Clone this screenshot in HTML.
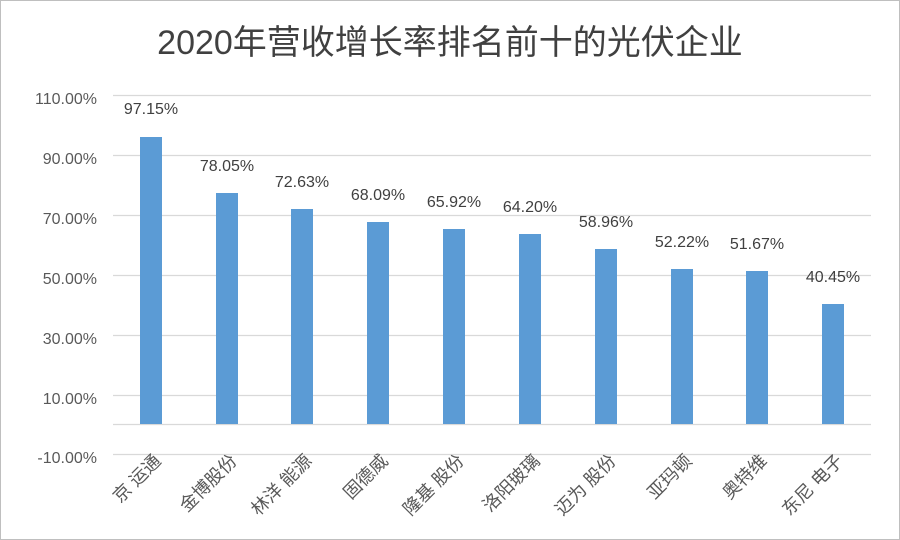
<!DOCTYPE html>
<html><head><meta charset="utf-8"><style>
body{margin:0;background:#fff;}
svg{display:block;font-family:"Liberation Sans","Noto Sans CJK SC",sans-serif;}
</style></head><body>
<svg width="900" height="540" xmlns="http://www.w3.org/2000/svg">
<rect x="0.5" y="0.5" width="899" height="539" fill="#fff" stroke="#bfbfbf"/>
<text x="450" y="54" text-anchor="middle" font-size="34" fill="#404040">2020年营收增长率排名前十的光伏企业</text>
<g stroke="#d9d9d9" stroke-width="1.2">
<line x1="113" x2="871" y1="95.5" y2="95.5"/>
<line x1="113" x2="871" y1="155.5" y2="155.5"/>
<line x1="113" x2="871" y1="215.5" y2="215.5"/>
<line x1="113" x2="871" y1="275.5" y2="275.5"/>
<line x1="113" x2="871" y1="335.5" y2="335.5"/>
<line x1="113" x2="871" y1="395.5" y2="395.5"/>
<line x1="113" x2="871" y1="424.5" y2="424.5"/>
<line x1="113" x2="871" y1="454.5" y2="454.5"/>
</g>
<g font-size="16" fill="#595959" text-anchor="end">
<text x="97" y="104">110.00%</text><text x="97" y="164">90.00%</text>
<text x="97" y="224">70.00%</text><text x="97" y="284">50.00%</text>
<text x="97" y="344">30.00%</text><text x="97" y="404">10.00%</text>
<text x="97" y="463">-10.00%</text>
</g>
<g fill="#5b9bd5">
<rect x="140" y="137" width="22" height="287"/>
<rect x="216" y="193" width="22" height="231"/>
<rect x="291" y="209" width="22" height="215"/>
<rect x="367" y="222" width="22" height="202"/>
<rect x="443" y="229" width="22" height="195"/>
<rect x="519" y="234" width="22" height="190"/>
<rect x="595" y="249" width="22" height="175"/>
<rect x="671" y="269" width="22" height="155"/>
<rect x="746" y="271" width="22" height="153"/>
<rect x="822" y="304" width="22" height="120"/>
</g>
<g font-size="16" fill="#404040" text-anchor="middle">
<text x="151" y="114">97.15%</text><text x="227" y="171">78.05%</text>
<text x="302" y="187">72.63%</text><text x="378" y="200">68.09%</text>
<text x="454" y="207">65.92%</text><text x="530" y="212">64.20%</text>
<text x="606" y="227">58.96%</text><text x="682" y="247">52.22%</text>
<text x="757" y="249">51.67%</text><text x="833" y="282">40.45%</text>
</g>
<g font-size="18" fill="#595959" text-anchor="end">
<text transform="translate(162,462) rotate(-45)">京 运通</text>
<text transform="translate(238,462) rotate(-45)">金博股份</text>
<text transform="translate(313,462) rotate(-45)">林洋 能源</text>
<text transform="translate(389,462) rotate(-45)">固德威</text>
<text transform="translate(465,462) rotate(-45)">隆基 股份</text>
<text transform="translate(541,462) rotate(-45)">洛阳玻璃</text>
<text transform="translate(617,462) rotate(-45)">迈为 股份</text>
<text transform="translate(693,462) rotate(-45)">亚玛顿</text>
<text transform="translate(768,462) rotate(-45)">奥特维</text>
<text transform="translate(844,462) rotate(-45)">东尼 电子</text>
</g>
</svg>
</body></html>
